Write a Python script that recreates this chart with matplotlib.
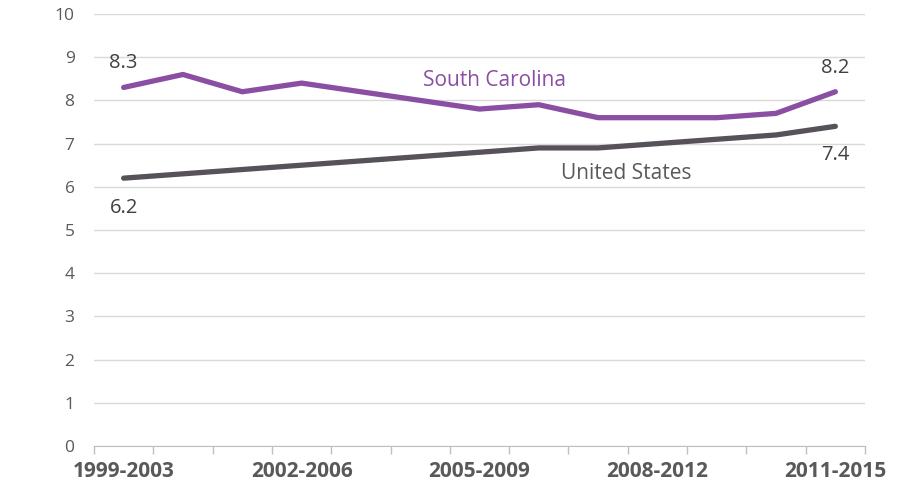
import numpy as np
import matplotlib.pyplot as plt

periods = ['1999-2003', '2000-2004', '2001-2005', '2002-2006', '2003-2007', '2004-2008',
           '2005-2009', '2006-2010', '2007-2011', '2008-2012', '2009-2013', '2010-2014', '2011-2015']
south_carolina = [8.3, 8.6, 8.2, 8.4, 8.2, 8.0, 7.8, 7.9, 7.6, 7.6, 7.6, 7.7, 8.2]
united_states = [6.2, 6.3, 6.4, 6.5, 6.6, 6.7, 6.8, 6.9, 6.9, 7.0, 7.1, 7.2, 7.4]

purple = '#8a4ea3'
dark = '#57525a'
text_col = '#595959'

plt.rcParams['font.family'] = ['Open Sans', 'DejaVu Sans']

fig = plt.figure(figsize=(9.24, 4.9), dpi=100)
ax = fig.add_axes([94 / 924, 1 - 446 / 490, (865 - 94) / 924, (446 - 14) / 490])

x = np.arange(len(periods))
ax.plot(x, united_states, color=dark, lw=3.8, solid_capstyle='round', zorder=3)
ax.plot(x, south_carolina, color=purple, lw=3.8, solid_capstyle='round', zorder=3)

ax.set_xlim(-0.5, len(periods) - 0.5)
ax.set_ylim(0, 10)
ax.set_yticks(range(0, 11))
ax.yaxis.grid(True, color='#d9d9d9', lw=1)
ax.set_axisbelow(True)
ax.tick_params(axis='y', length=0, labelsize=12.5, labelcolor=text_col, pad=14)

# category boundaries carry the tick marks, labels every third period
ax.set_xticks(np.arange(-0.5, len(periods), 1.0))
ax.set_xticklabels([])
ax.tick_params(axis='x', which='major', length=6, color='#bfbfbf', width=1)
ax.set_xticks(x[::3], minor=True)
ax.set_xticklabels(periods[::3], minor=True, fontweight='bold', fontsize=15,
                   color=text_col)
ax.tick_params(axis='x', which='minor', length=0, pad=11)

for s in ['top', 'right', 'left']:
    ax.spines[s].set_visible(False)
ax.spines['bottom'].set_color('#bfbfbf')

ax.text(x[0], south_carolina[0] + 0.57, f'{south_carolina[0]}', ha='center', va='center',
        fontsize=14.5, color='#404040')
ax.text(x[-1], south_carolina[-1] + 0.55, f'{south_carolina[-1]}', ha='center', va='center',
        fontsize=14.5, color='#404040')
ax.text(x[0], united_states[0] - 0.69, f'{united_states[0]}', ha='center', va='center',
        fontsize=14.5, color='#404040')
ax.text(x[-1], united_states[-1] - 0.66, f'{united_states[-1]}', ha='center', va='center',
        fontsize=14.5, color='#404040')
ax.text(6.26, 8.47, 'South Carolina', ha='center', va='center', fontsize=15, color=purple)
ax.text(8.47, 6.30, 'United States', ha='center', va='center', fontsize=15, color=text_col)

fig.savefig('out.png', dpi=100)
